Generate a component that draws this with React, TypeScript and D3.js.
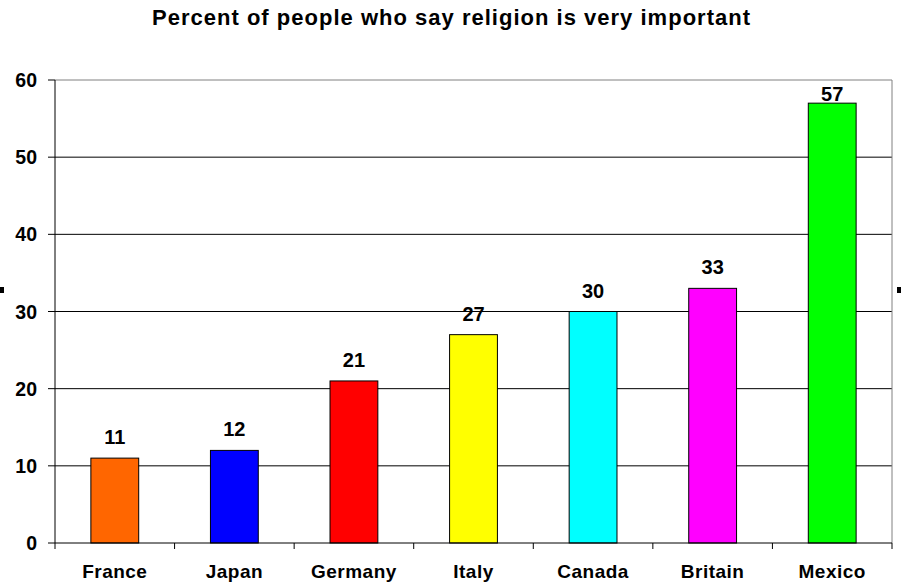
import React from "react";
import * as d3 from "d3";

const categories = ["France", "Japan", "Germany", "Italy", "Canada", "Britain", "Mexico"];
const values = [11, 12, 21, 27, 30, 33, 57];
const colors = ["#FF6600", "#0000FF", "#FF0000", "#FFFF00", "#00FFFF", "#FF00FF", "#00FF00"];
const yTicks = [0, 10, 20, 30, 40, 50, 60];
const title = "Percent of people who say religion is very important";

const W = 902, H = 585;
const left = 55, right = 892, top = 80, bottom = 543;
const font = "'Liberation Sans', Arial, sans-serif";

export default function App() {
  const x = d3.scaleBand<string>().domain(categories).range([left, right]).paddingInner(0).paddingOuter(0);
  const y = d3.scaleLinear().domain([0, 60]).range([bottom, top]);
  const bw = x.bandwidth() * 0.4;
  const boundaries = categories.map((c) => x(c)!).concat([right]);
  return (
    <svg width={W} height={H} style={{ position: "absolute", left: 0, top: 0, background: "#fff" }}>
      <rect x={0} y={0} width={W} height={H} fill="#fff" />
      <text x={451} y={25} textAnchor="middle" fontFamily={font} fontWeight="bold" fontSize={22} textLength={598} lengthAdjust="spacing">{title}</text>
      {yTicks.slice(1).map((t) => (
        <line key={t} x1={left} x2={right} y1={y(t)} y2={y(t)} stroke={t === 60 ? "#808080" : "#000"} strokeWidth={1} />
      ))}
      <line x1={right} x2={right} y1={top} y2={bottom} stroke="#808080" strokeWidth={1} />
      {categories.map((c, i) => {
        const cx = x(c)! + x.bandwidth() / 2;
        const yt = y(values[i]);
        return (
          <g key={c}>
            <rect x={cx - bw / 2} y={yt} width={bw} height={bottom - yt} fill={colors[i]} stroke="#000" strokeWidth={1} />
            <text x={cx} y={Math.max(yt - 14, top + 21)} textAnchor="middle" fontFamily={font} fontWeight="bold" fontSize={20}>{values[i]}</text>
            <text x={cx} y={578} textAnchor="middle" fontFamily={font} fontWeight="bold" fontSize={19} letterSpacing={0.5}>{c}</text>
          </g>
        );
      })}
      <line x1={left} x2={left} y1={top} y2={bottom} stroke="#000" strokeWidth={1} />
      <line x1={left} x2={right} y1={bottom} y2={bottom} stroke="#000" strokeWidth={1} />
      {yTicks.map((t) => (
        <g key={"t" + t}>
          <line x1={left - 7} x2={left} y1={y(t)} y2={y(t)} stroke="#000" />
          <text x={37} y={y(t) + 7} textAnchor="end" fontFamily={font} fontWeight="bold" fontSize={19.5}>{t}</text>
        </g>
      ))}
      {boundaries.map((b, i) => (
        <line key={"b" + i} x1={b} x2={b} y1={bottom} y2={bottom + 6} stroke="#000" />
      ))}
      <rect x={0} y={287} width={4} height={6} fill="#000" />
      <rect x={897} y={287} width={4} height={6} fill="#000" />
    </svg>
  );
}
